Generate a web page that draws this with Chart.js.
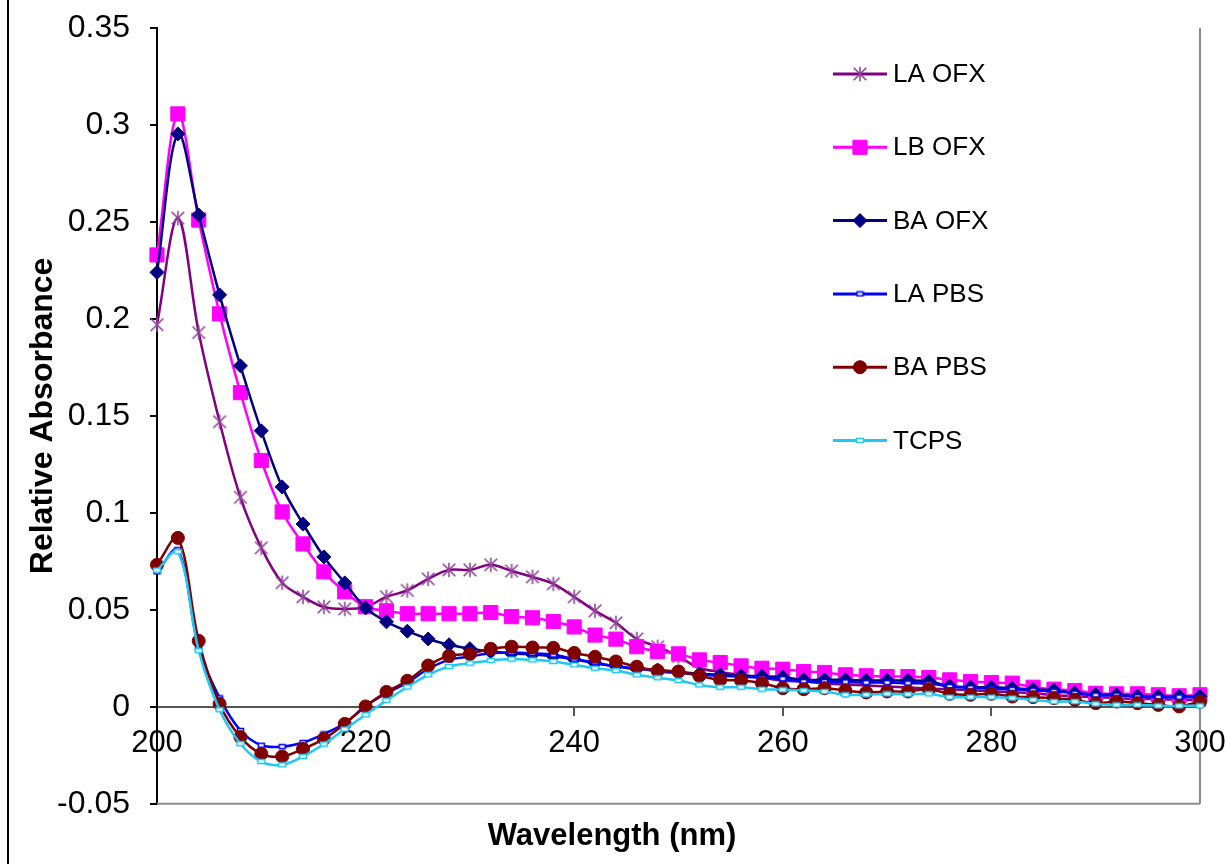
<!DOCTYPE html>
<html>
<head>
<meta charset="utf-8">
<script src="https://cdn.jsdelivr.net/npm/chart.js@4.4.1/dist/chart.umd.min.js"></script>
<style>
  html, body { margin: 0; padding: 0; background: #ffffff; }
  canvas { display: block; }
</style>
</head>
<body>
<canvas id="chart" width="1225" height="864"></canvas>
<script>
// Wavelength grid (nm)
const wavelengths = [200, 202, 204, 206, 208, 210, 212, 214, 216, 218, 220, 222, 224, 226, 228, 230, 232, 234, 236, 238, 240,
  242, 244, 246, 248, 250, 252, 254, 256, 258, 260, 262, 264, 266, 268, 270, 272, 274, 276, 278, 280,
  282, 284, 286, 288, 290, 292, 294, 296, 298, 300];

// Relative absorbance of each sample
const laOfx = [0.197, 0.252, 0.193, 0.147, 0.108, 0.082, 0.064, 0.0567, 0.0515, 0.0505, 0.0515,
  0.0567, 0.060, 0.066, 0.0706, 0.0706, 0.0732, 0.070, 0.067, 0.0634, 0.0567,
  0.0495, 0.0433, 0.035, 0.031, 0.026, 0.020, 0.018, 0.0165, 0.015, 0.0135,
  0.013, 0.012, 0.0115, 0.011, 0.0105, 0.010, 0.0095, 0.009, 0.0085, 0.008,
  0.0075, 0.007, 0.006, 0.0055, 0.005, 0.0045, 0.004, 0.004, 0.0035, 0.0035];
const lbOfx = [0.233, 0.3057, 0.251, 0.2026, 0.162, 0.127, 0.1005, 0.084, 0.0696, 0.0593, 0.0516,
  0.0495, 0.048, 0.048, 0.048, 0.048, 0.0486, 0.0465, 0.0459, 0.044, 0.0412,
  0.037, 0.0349, 0.031, 0.0285, 0.0273, 0.0242, 0.0228, 0.0211, 0.0199, 0.0194,
  0.0182, 0.0177, 0.0165, 0.016, 0.0156, 0.0156, 0.0151, 0.0139, 0.013, 0.0125,
  0.0122, 0.0101, 0.0091, 0.0084, 0.007, 0.0067, 0.0067, 0.0062, 0.0057, 0.0062];
const baOfx = [0.224, 0.2954, 0.2536, 0.2124, 0.1758, 0.1423, 0.1134, 0.0943, 0.0773, 0.0639, 0.051,
  0.0438, 0.039, 0.035, 0.032, 0.030, 0.0285, 0.0275, 0.027, 0.026, 0.0245,
  0.0225, 0.021, 0.0195, 0.019, 0.018, 0.017, 0.0165, 0.016, 0.0157, 0.0153,
  0.0139, 0.0139, 0.0139, 0.0136, 0.0136, 0.0136, 0.0131, 0.0108, 0.0101, 0.0101,
  0.0096, 0.0089, 0.0086, 0.0072, 0.0063, 0.0063, 0.0055, 0.0055, 0.0055, 0.0055];
const laPbs = [0.0696, 0.081, 0.0304, 0.0046, -0.0122, -0.0198, -0.0205, -0.0184, -0.014, -0.0085, 0.0005,
  0.007, 0.0125, 0.0195, 0.0242, 0.0259, 0.0276, 0.028, 0.0276, 0.0268, 0.0246,
  0.0228, 0.0208, 0.0199, 0.0182, 0.0175, 0.0165, 0.016, 0.0155, 0.015, 0.0145,
  0.013, 0.013, 0.0128, 0.0125, 0.0125, 0.0122, 0.012, 0.0105, 0.0098, 0.0095,
  0.009, 0.0085, 0.008, 0.007, 0.006, 0.006, 0.0052, 0.005, 0.005, 0.005];
const baPbs = [0.0732, 0.0871, 0.034, 0.0015, -0.0156, -0.0242, -0.0256, -0.0217, -0.0165, -0.0088, 0.0002,
  0.0077, 0.0134, 0.0213, 0.0263, 0.0273, 0.0299, 0.031, 0.0306, 0.0304, 0.0278,
  0.0258, 0.0234, 0.0207, 0.0186, 0.0182, 0.016, 0.0139, 0.0136, 0.0122, 0.0096,
  0.0091, 0.0096, 0.0084, 0.0074, 0.0079, 0.0079, 0.0091, 0.0067, 0.0062, 0.0067,
  0.0053, 0.005, 0.0045, 0.0036, 0.0019, 0.0027, 0.0019, 0.001, 0.0002, 0.0027];
const tcps = [0.0705, 0.080, 0.029, -0.0015, -0.019, -0.0282, -0.0299, -0.0256, -0.0192, -0.0115, -0.0041,
  0.0033, 0.0102, 0.0165, 0.0208, 0.0225, 0.0239, 0.0246, 0.0242, 0.0234, 0.0216,
  0.0199, 0.0187, 0.0165, 0.015, 0.0136, 0.0113, 0.0101, 0.0101, 0.0091, 0.0088,
  0.0084, 0.0079, 0.0062, 0.0062, 0.0067, 0.0065, 0.0067, 0.005, 0.005, 0.005,
  0.0045, 0.0036, 0.0027, 0.0027, 0.0015, 0.001, 0.001, 0.0005, 0.0005, 0.0005];

const seriesNames = ['LA OFX', 'LB OFX', 'BA OFX', 'LA PBS', 'BA PBS', 'TCPS'];

// Axis ticks
const xTickValues = [200, 220, 240, 260, 280, 300];
const xTickLabels = ['200', '220', '240', '260', '280', '300'];
const yTickValues = [-0.05, 0, 0.05, 0.1, 0.15, 0.2, 0.25, 0.3, 0.35];
const yTickLabels = ['-0.05', '0', '0.05', '0.1', '0.15', '0.2', '0.25', '0.3', '0.35'];

// ---- marker sprites ----
function asteriskMarker(color, half) {
  const s = half * 2 + 4;
  const c = document.createElement('canvas');
  c.width = s; c.height = s;
  const g = c.getContext('2d');
  const m = s / 2;
  g.strokeStyle = color;
  g.lineWidth = 1.6;
  g.beginPath();
  g.moveTo(m - half * 0.9, m - half * 0.9); g.lineTo(m + half * 0.9, m + half * 0.9);
  g.moveTo(m + half * 0.9, m - half * 0.9); g.lineTo(m - half * 0.9, m + half * 0.9);
  g.moveTo(m, m - half * 1.05); g.lineTo(m, m + half * 1.05);
  g.stroke();
  return c;
}
function dashMarker(color, w, h) {
  const c = document.createElement('canvas');
  c.width = w + 2; c.height = h + 2;
  const g = c.getContext('2d');
  g.fillStyle = '#ffffff';
  g.fillRect(1, 1, w, h);
  g.strokeStyle = color;
  g.lineWidth = 1.5;
  g.strokeRect(1.5, 1.5, w - 1, h - 1);
  return c;
}

const seriesStyles = [
  { line: '#800080', point: asteriskMarker('#93449a', 7), radius: 7 },
  { line: '#ff00ff', point: 'rect', radius: 10 },
  { line: '#000080', point: 'rectRot', radius: 7 },
  { line: '#0000ff', point: dashMarker('#0000ff', 7, 5), radius: 4 },
  { line: '#800000', point: 'circle', radius: 6.5 },
  { line: '#1ec8f5', point: dashMarker('#1ec8f5', 8, 5), radius: 4 }
];
const seriesValues = [laOfx, lbOfx, baOfx, laPbs, baPbs, tcps];

const datasets = seriesNames.map((name, i) => ({
  label: name,
  data: wavelengths.map((w, k) => ({ x: w, y: seriesValues[i][k] })),
  borderColor: seriesStyles[i].line,
  backgroundColor: seriesStyles[i].line,
  pointBackgroundColor: seriesStyles[i].line,
  pointBorderColor: seriesStyles[i].line,
  pointBorderWidth: 1,
  pointStyle: seriesStyles[i].point,
  pointRadius: seriesStyles[i].radius,
  borderWidth: 2.5,
  tension: 0.35,
  fill: false,
  clip: false,
  order: seriesNames.length - i
}));

// Plot frame, page rule and legend
const decorations = {
  id: 'decorations',
  beforeDatasetsDraw(chart) {
    const { ctx, chartArea: a } = chart;
    ctx.save();
    ctx.strokeStyle = '#8c8c8c';
    ctx.lineWidth = 2;
    ctx.beginPath();
    ctx.moveTo(a.right, a.top);
    ctx.lineTo(a.right, a.bottom);
    ctx.moveTo(a.left, a.bottom);
    ctx.lineTo(a.right, a.bottom);
    ctx.stroke();
    ctx.restore();
  },
  afterDraw(chart) {
    const ctx = chart.ctx;
    ctx.save();
    // page rule on the far left
    ctx.strokeStyle = '#000000';
    ctx.lineWidth = 2;
    ctx.beginPath();
    ctx.moveTo(8, 0);
    ctx.lineTo(8, chart.height);
    ctx.stroke();

    // legend
    const x0 = 833, x1 = 887, textX = 893, y0 = 74, step = 73.3;
    ctx.font = '26px "Liberation Sans", Arial, sans-serif';
    ctx.textBaseline = 'middle';
    ctx.textAlign = 'left';
    seriesNames.forEach((name, i) => {
      const y = y0 + i * step;
      const st = seriesStyles[i];
      ctx.strokeStyle = st.line;
      ctx.lineWidth = 3;
      ctx.beginPath();
      ctx.moveTo(x0, y);
      ctx.lineTo(x1, y);
      ctx.stroke();
      const cx = (x0 + x1) / 2;
      ctx.fillStyle = st.line;
      ctx.strokeStyle = st.line;
      ctx.lineWidth = 1;
      if (typeof st.point === 'string') {
        Chart.helpers.drawPoint(ctx, { pointStyle: st.point, radius: st.radius, borderWidth: 1, rotation: 0 }, cx, y);
      } else {
        ctx.drawImage(st.point, cx - st.point.width / 2, y - st.point.height / 2);
      }
      ctx.fillStyle = '#000000';
      ctx.fillText(name, textX, y + 1);
    });
    ctx.restore();
  }
};

Chart.defaults.font.family = '"Liberation Sans", Arial, sans-serif';
Chart.defaults.color = '#000000';

new Chart(document.getElementById('chart'), {
  type: 'line',
  data: { datasets },
  options: {
    responsive: false,
    animation: false,
    devicePixelRatio: 1,
    layout: { padding: { left: 24, right: 25, top: 28, bottom: 0 } },
    plugins: {
      legend: { display: false },
      tooltip: { enabled: false },
      title: {
        display: true,
        position: 'bottom',
        text: 'Wavelength (nm)',
        color: '#000000',
        font: { size: 31, weight: 'bold' },
        padding: { top: 14, bottom: 9 }
      }
    },
    scales: {
      x: {
        type: 'linear',
        min: 200,
        max: 300,
        position: { y: 0 },
        afterBuildTicks: s => { s.ticks = xTickValues.map(v => ({ value: v })); },
        afterFit: s => { s.paddingLeft = 0; s.paddingRight = 0; },
        ticks: {
          font: { size: 31 },
          color: '#000000',
          padding: 10,
          maxRotation: 0,
          autoSkip: false,
          callback: (v, i) => xTickLabels[i]
        },
        grid: { drawOnChartArea: false, drawTicks: true, tickLength: 8, color: '#555555', lineWidth: 2 },
        border: { color: '#555555', width: 2 }
      },
      y: {
        type: 'linear',
        min: -0.05,
        max: 0.35,
        afterBuildTicks: s => { s.ticks = yTickValues.map(v => ({ value: v })); },
        afterFit: s => { s.width = 133; s.paddingTop = 0; s.paddingBottom = 0; },
        ticks: {
          font: { size: 32 },
          color: '#000000',
          padding: 20,
          autoSkip: false,
          callback: (v, i) => yTickLabels[i]
        },
        grid: { drawOnChartArea: false, drawTicks: true, tickLength: 7, color: '#000000', lineWidth: 2 },
        border: { color: '#000000', width: 2 },
        title: {
          display: true,
          text: 'Relative Absorbance',
          color: '#000000',
          font: { size: 32, weight: 'bold' },
          padding: { top: 0, bottom: 0 }
        }
      }
    }
  },
  plugins: [decorations]
});
</script>
</body>
</html>
